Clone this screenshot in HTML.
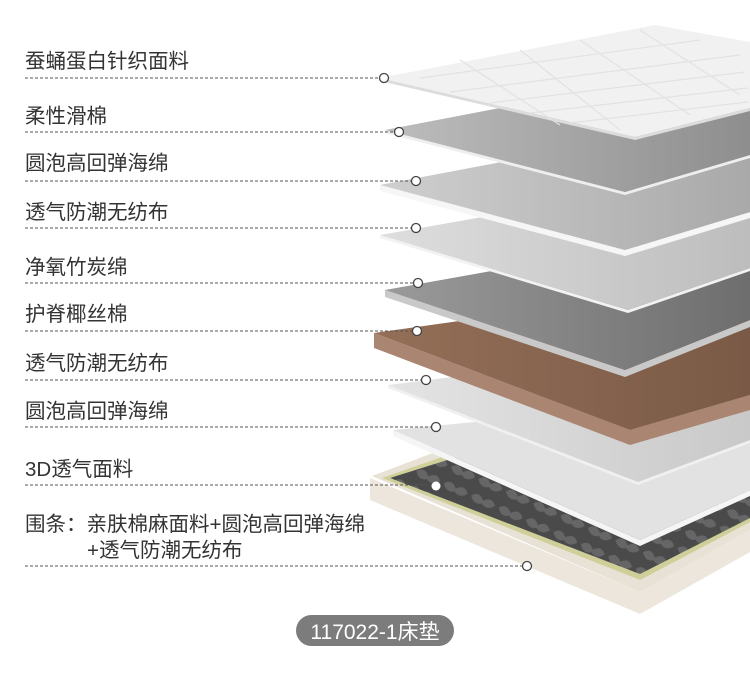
<!DOCTYPE html>
<html><head><meta charset="utf-8"><style>
html,body{margin:0;padding:0;background:#fff;}
svg{display:block}
text{font-family:"Liberation Sans","Noto Sans CJK SC",sans-serif;fill:#333;font-size:20.5px;}
</style></head><body>
<svg width="750" height="677" viewBox="0 0 750 677" xmlns="http://www.w3.org/2000/svg">
<defs>
<linearGradient id="g2" x1="0" y1="0" x2="1" y2="0"><stop offset="0" stop-color="#bdbdbd"/><stop offset="1" stop-color="#8e8e8e"/></linearGradient>
<linearGradient id="g3" x1="0" y1="0" x2="1" y2="0"><stop offset="0" stop-color="#cfcfcf"/><stop offset="1" stop-color="#a9a9a9"/></linearGradient>
<linearGradient id="g4" x1="0" y1="0" x2="1" y2="0"><stop offset="0" stop-color="#dedede"/><stop offset="1" stop-color="#bdbdbd"/></linearGradient>
<linearGradient id="g5" x1="0" y1="0" x2="1" y2="0"><stop offset="0" stop-color="#9a9a9a"/><stop offset="1" stop-color="#6e6e6e"/></linearGradient>
<linearGradient id="g6" x1="0" y1="0" x2="1" y2="0"><stop offset="0" stop-color="#946f58"/><stop offset="1" stop-color="#7a5a46"/></linearGradient>
<linearGradient id="g7" x1="0" y1="0" x2="1" y2="0"><stop offset="0" stop-color="#e4e4e4"/><stop offset="1" stop-color="#c9c9c9"/></linearGradient>
<pattern id="q" width="30" height="18" patternUnits="userSpaceOnUse" patternTransform="rotate(24)">
<rect width="30" height="18" fill="#4a4a4a"/><path d="M2 9 Q8 1 15 9 Q22 1 28 9 Q22 17 15 12 Q8 17 2 9Z" fill="#666"/></pattern>
</defs>

<!-- base -->
<polygon points="370,478 370,500 640,614 750,552 750,530 640,592" fill="#ece6dc"/>
<polygon points="372,476 520,420 750,440 750,530 640,592" fill="#e8e2d6"/>
<polygon points="382,478 525,428 750,450 750,522 640,580" fill="#cfcf9a"/>
<polygon points="390,478 530,434 750,455 750,518 640,574" fill="url(#q)"/>

<!-- layer 8 -->
<polygon points="393,430 393,436 640,546 750,496 750,490 640,540" fill="#f5f5f5"/>
<polygon points="393,430 750,395 750,490 640,540" fill="#e2e2e2"/>
<!-- layer 7 -->
<polygon points="388,385 388,388 638,485 750,443 750,440 638,482" fill="#f0f0f0"/>
<polygon points="388,385 750,340 750,440 638,482" fill="url(#g7)"/>
<!-- layer 6 brown -->
<polygon points="374,333 374,348 630,445 750,410 750,395 630,430" fill="#a98572"/>
<polygon points="374,333 750,280 750,395 630,430" fill="url(#g6)"/>
<!-- layer 5 gray -->
<polygon points="385,290 385,297 625,377 750,327 750,320 625,370" fill="#c9c9c9"/>
<polygon points="385,290 750,225 750,320 625,370" fill="url(#g5)"/>
<!-- layer 4 -->
<polygon points="380,235 380,238 628,313 750,271 750,268 628,310" fill="#f2f2f2"/>
<polygon points="380,235 750,170 750,268 628,310" fill="url(#g4)"/>
<!-- layer 3 -->
<polygon points="380,185 380,191 625,256 750,218 750,212 625,250" fill="#f6f6f6"/>
<polygon points="380,185 750,115 750,212 625,250" fill="url(#g3)"/>
<!-- layer 2 -->
<polygon points="385,130 385,133 625,195 750,158 750,155 625,192" fill="#eeeeee"/>
<polygon points="385,130 750,60 750,155 625,192" fill="url(#g2)"/>
<!-- layer 1 -->
<polygon points="380,78 380,81 635,140 750,111 750,108 635,137" fill="#dcdcdc"/>
<polygon points="380,78 655,25 750,42 750,108 635,137" fill="#f1f1f1"/>
<g stroke="#e2e2e2" stroke-width="1.2" fill="none">
<path d="M420 78 L700 40 M450 92 L740 55 M490 103 L745 72 M530 113 L748 88 M570 123 L748 102"/>
<path d="M460 60 L560 125 M520 50 L620 130 M580 40 L690 115 M640 30 L740 95"/>
</g>

<!-- dashed lines -->
<g stroke="#555" stroke-width="1" stroke-dasharray="3,2" fill="none">
<line x1="25" y1="78" x2="384" y2="78"/>
<line x1="25" y1="132" x2="398" y2="132"/>
<line x1="25" y1="181" x2="416" y2="181"/>
<line x1="25" y1="228" x2="416" y2="228"/>
<line x1="25" y1="283" x2="418" y2="283"/>
<line x1="25" y1="331" x2="416" y2="331"/>
<line x1="25" y1="380" x2="426" y2="380"/>
<line x1="25" y1="427" x2="436" y2="427"/>
<line x1="25" y1="485" x2="436" y2="485"/>
<line x1="25" y1="566" x2="527" y2="566"/>
</g>
<g fill="#fff" stroke="#444" stroke-width="1.3">
<circle cx="384" cy="78" r="4.5"/>
<circle cx="399" cy="132" r="4.5"/>
<circle cx="416" cy="181" r="4.5"/>
<circle cx="416" cy="228" r="4.5"/>
<circle cx="418" cy="283" r="4.5"/>
<circle cx="417" cy="331" r="4.5"/>
<circle cx="426" cy="380" r="4.5"/>
<circle cx="436" cy="427" r="4.5"/>
<circle cx="436" cy="486" r="4.5" stroke="none"/>
<circle cx="527" cy="566" r="4.5"/>
</g>

<text x="25" y="68">蚕蛹蛋白针织面料</text>
<text x="25" y="123">柔性滑棉</text>
<text x="25" y="170">圆泡高回弹海绵</text>
<text x="25" y="219">透气防潮无纺布</text>
<text x="25" y="274">净氧竹炭绵</text>
<text x="25" y="321">护脊椰丝棉</text>
<text x="25" y="370">透气防潮无纺布</text>
<text x="25" y="418">圆泡高回弹海绵</text>
<text x="25" y="476">3D透气面料</text>
<text x="25" y="531">围条：亲肤棉麻面料+圆泡高回弹海绵</text>
<text x="87" y="557">+透气防潮无纺布</text>

<rect x="296" y="615" width="158" height="31" rx="15.5" fill="#7c7c7c"/>
<text x="375" y="639" text-anchor="middle" style="fill:#fff;font-size:21px">117022-1床垫</text>
</svg>
</body></html>
